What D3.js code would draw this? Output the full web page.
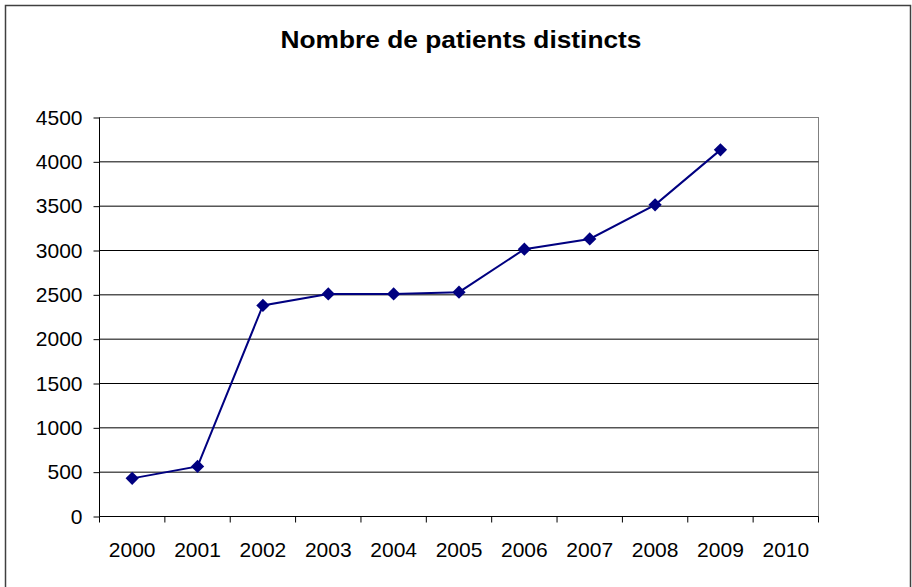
<html>
<head>
<meta charset="UTF-8">
<title>Nombre de patients distincts</title>
<script src="https://d3js.org/d3.v7.min.js"></script>
<style>
  body { margin: 0; background: #fff; }
  svg { display: block; }
  .axis text { font-family: "Liberation Sans", Arial, sans-serif; font-size: 21px; fill: #000; }
  .axis path, .axis line { stroke: #000; }
  .title { font-family: "Liberation Sans", Arial, sans-serif; font-size: 24px; font-weight: bold; fill: #000; }
</style>
</head>
<body>
<svg width="912" height="587"></svg>
<script>
// data
var years = ["2000", "2001", "2002", "2003", "2004", "2005", "2006", "2007", "2008", "2009", "2010"];
var patients = [430, 565, 2380, 2510, 2510, 2530, 3015, 3130, 3515, 4135];
var yTicks = [0, 500, 1000, 1500, 2000, 2500, 3000, 3500, 4000, 4500];

var svg = d3.select("svg");

// outer frame (bottom edge runs off the picture)
svg.append("rect")
    .attr("x", 5.5).attr("y", 5.5)
    .attr("width", 905).attr("height", 600)
    .attr("fill", "#fff")
    .attr("stroke", "#404040")
    .attr("stroke-width", 1.5);

svg.append("text")
    .attr("class", "title")
    .attr("x", 461)
    .attr("y", 48)
    .attr("text-anchor", "middle")
    .attr("textLength", 361)
    .attr("lengthAdjust", "spacingAndGlyphs")
    .text("Nombre de patients distincts");

var plotL = 99.5, plotR = 818.5, plotT = 117.5, plotB = 516.5;

var x = d3.scaleBand().domain(years).range([plotL, plotR]).padding(0);
var y = d3.scaleLinear().domain([0, 4500]).range([plotB, plotT]);

// plot area border (grey top/right)
svg.append("rect")
    .attr("x", plotL).attr("y", plotT)
    .attr("width", plotR - plotL).attr("height", plotB - plotT)
    .attr("fill", "none")
    .attr("stroke", "#808080");

// gridlines
svg.append("g")
    .selectAll("line")
    .data(yTicks.filter(d => d > 0 && d < 4500))
    .enter()
    .append("line")
    .attr("x1", plotL).attr("x2", plotR)
    .attr("y1", d => y(d)).attr("y2", d => y(d))
    .attr("stroke", "#000");

// y axis
var yAxis = d3.axisLeft(y).tickValues(yTicks).tickSize(6).tickPadding(11).tickFormat(d3.format("d"));
svg.append("g")
    .attr("class", "axis")
    .attr("transform", "translate(" + plotL + ",0)")
    .call(yAxis)
    .call(g => g.select(".domain").attr("d", "M0," + plotT + "V" + plotB));

// x axis: labels centered, ticks at category boundaries
var xAxis = d3.axisBottom(x).tickSize(0).tickPadding(26);
var gx = svg.append("g")
    .attr("class", "axis")
    .attr("transform", "translate(0," + plotB + ")")
    .call(xAxis);
gx.select(".domain").attr("d", "M" + plotL + ",0H" + plotR);
gx.selectAll(".bound")
    .data(years.concat(["end"]))
    .enter()
    .append("line")
    .attr("class", "bound")
    .attr("x1", d => d === "end" ? plotR : x(d))
    .attr("x2", d => d === "end" ? plotR : x(d))
    .attr("y1", 0).attr("y2", 6)
    .attr("stroke", "#000");

// series
var pts = patients.map((v, i) => ({year: years[i], value: v}));
var cx = d => x(d.year) + x.bandwidth() / 2;

svg.append("path")
    .datum(pts)
    .attr("fill", "none")
    .attr("stroke", "#000080")
    .attr("stroke-width", 2)
    .attr("d", d3.line().x(cx).y(d => y(d.value)));

svg.append("g")
    .selectAll("path")
    .data(pts)
    .enter()
    .append("path")
    .attr("d", d3.symbol().type(d3.symbolSquare).size(88))
    .attr("transform", d => "translate(" + cx(d) + "," + y(d.value) + ") rotate(45)")
    .attr("fill", "#000080");
</script>
</body>
</html>
